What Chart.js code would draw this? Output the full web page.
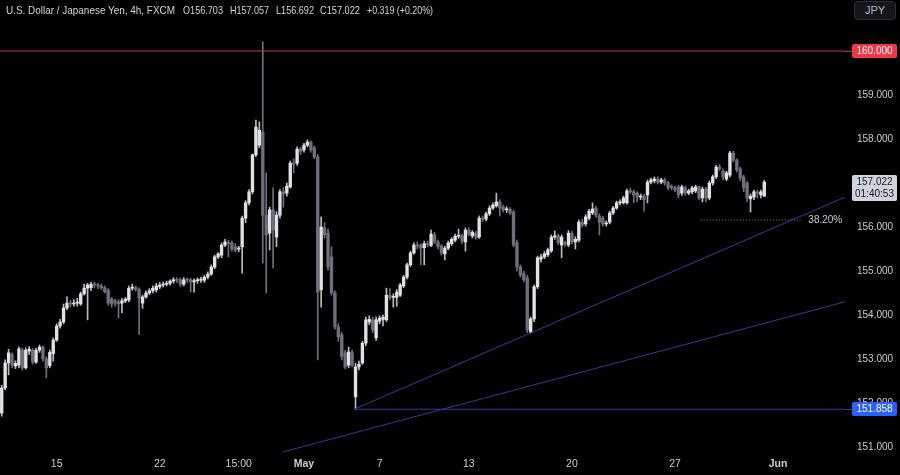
<!DOCTYPE html>
<html><head><meta charset="utf-8">
<script src="https://cdn.jsdelivr.net/npm/chart.js@4.4.1/dist/chart.umd.min.js"></script>
<style>
html,body{margin:0;padding:0;background:#000;}
#wrap{position:relative;width:900px;height:475px;background:#000;overflow:hidden;}
#c{position:absolute;left:0;top:0;}
.h{position:absolute;top:3px;color:#d1d4dc;font-size:11.5px;white-space:pre;line-height:14px;transform-origin:0 0;font-family:"Liberation Sans",Arial,sans-serif;}
#jpy{position:absolute;left:854px;top:1px;width:42px;height:19px;border:1px solid #2a2e39;border-radius:4px;background:#15161a;color:#b2b5be;font-size:11px;text-align:center;line-height:17px;box-sizing:border-box;font-family:"Liberation Sans",Arial,sans-serif;}
</style></head>
<body>
<div id="wrap">
<canvas id="c" width="900" height="475"></canvas>
<div id="hdr"></div>
<div id="jpy">JPY</div>
</div>
<script>
// ---- DATA (USD/JPY 4h, FXCM) ----
const symbolTitle = 'U.S. Dollar / Japanese Yen, 4h, FXCM';
const opens = [151.77,152.34,152.91,153.10,152.84,152.86,153.20,152.80,153.18,153.20,152.93,153.20,153.27,153.00,152.85,153.12,153.43,153.75,153.84,154.16,154.27,154.25,154.27,154.25,154.48,154.61,154.62,154.70,154.68,154.66,154.62,154.56,154.36,154.32,154.30,154.27,154.32,154.34,154.61,154.62,154.58,154.27,154.41,154.50,154.55,154.57,154.64,154.68,154.70,154.72,154.77,154.80,154.80,154.70,154.80,154.80,154.75,154.78,154.79,154.79,154.86,154.93,155.09,155.32,155.36,155.59,155.64,155.64,155.55,155.50,155.55,156.20,156.55,156.80,157.64,157.86,158.16,156.27,155.86,156.39,155.77,156.27,156.80,156.77,156.91,157.45,157.45,157.77,157.75,157.86,157.93,157.80,157.59,154.57,155.98,155.86,155.32,154.50,153.73,153.55,153.14,152.86,153.14,152.14,152.82,152.91,153.36,153.84,153.89,153.48,153.86,153.90,153.89,154.45,154.40,154.40,154.45,154.66,154.86,155.14,155.41,155.59,155.59,155.53,155.62,155.58,155.82,155.66,155.57,155.39,155.52,155.62,155.70,155.79,155.80,155.66,155.93,155.80,155.86,155.77,156.20,156.18,156.30,156.43,156.48,156.57,156.45,156.39,156.40,156.34,155.64,155.09,154.95,154.84,153.61,153.91,154.64,155.27,155.32,155.37,155.46,155.77,155.80,155.59,155.64,155.59,155.86,155.66,155.70,156.11,156.07,156.20,156.32,156.43,156.25,156.20,156.07,156.11,156.32,156.43,156.55,156.55,156.55,156.82,156.80,156.77,156.68,156.70,156.73,157.02,157.05,157.09,157.02,157.07,157.00,156.93,156.89,156.91,156.77,156.89,156.77,156.80,156.82,156.91,156.66,156.86,156.66,157.00,157.14,157.36,157.27,157.09,157.18,157.68,157.52,157.32,157.14,157.00,156.64,156.68,156.78,156.73,156.703];
const highs = [152.40,152.98,153.22,153.14,152.96,153.27,153.25,153.25,153.28,153.24,153.24,153.32,153.30,153.05,153.20,153.48,153.80,153.90,154.25,154.41,154.33,154.35,154.38,154.52,154.70,154.72,154.75,154.75,154.72,154.70,154.66,154.60,154.40,154.36,154.35,154.38,154.40,154.66,154.70,154.66,154.62,154.45,154.55,154.60,154.66,154.72,154.74,154.75,154.77,154.80,154.85,154.85,154.84,154.85,154.84,154.84,154.82,154.84,154.86,154.90,154.98,155.14,155.36,155.42,155.64,155.72,155.70,155.68,155.62,155.56,156.25,156.60,156.85,157.66,158.43,158.39,160.21,157.23,156.45,156.89,156.35,156.85,156.90,157.00,157.50,157.55,157.82,157.82,157.90,157.98,157.96,157.84,157.65,156.23,156.10,155.95,155.55,154.55,153.80,153.60,153.20,153.27,153.20,152.90,152.95,153.40,153.95,153.98,153.95,153.95,153.98,154.00,154.61,154.60,154.48,154.58,154.72,154.90,155.18,155.45,155.64,155.66,155.62,155.68,155.68,155.93,155.88,155.70,155.60,155.56,155.68,155.76,155.84,155.95,155.84,155.98,155.98,155.92,155.90,156.25,156.25,156.34,156.48,156.55,156.77,156.62,156.50,156.46,156.44,156.38,155.70,155.14,155.00,154.90,153.95,154.68,155.34,155.38,155.44,155.52,155.82,155.91,155.84,155.82,155.68,155.92,155.90,155.78,156.16,156.18,156.28,156.40,156.55,156.47,156.30,156.24,156.14,156.36,156.47,156.59,156.62,156.70,156.86,156.89,156.84,156.80,156.75,156.74,157.07,157.11,157.14,157.14,157.11,157.11,157.04,156.96,156.93,156.95,156.95,156.93,156.86,156.93,156.95,156.93,156.91,156.90,157.05,157.18,157.40,157.42,157.32,157.27,157.72,157.72,157.55,157.36,157.18,157.03,156.75,156.84,156.84,156.84,157.057];
const lows = [151.70,152.30,152.64,152.80,152.78,152.80,152.75,152.77,153.10,152.88,152.90,153.15,152.95,152.57,152.80,152.95,153.40,153.70,153.80,154.12,154.18,154.20,154.20,154.22,154.45,153.89,154.55,154.62,154.60,154.58,154.50,154.22,154.18,154.20,153.93,154.05,154.28,154.30,154.56,154.54,153.55,154.15,154.38,154.46,154.50,154.52,154.60,154.64,154.66,154.68,154.72,154.74,154.65,154.66,154.74,154.52,154.52,154.72,154.74,154.74,154.82,154.90,155.05,155.28,155.30,155.55,155.32,155.45,155.44,155.44,154.95,156.10,156.50,156.75,157.60,157.80,155.18,154.50,155.48,155.07,155.55,156.20,156.45,156.70,156.88,157.23,157.40,157.65,157.70,157.82,157.70,157.55,152.98,154.18,155.75,155.02,154.45,153.68,153.40,152.98,152.78,152.80,152.82,151.858,152.75,152.88,153.30,153.78,153.60,153.42,153.80,153.75,153.85,154.35,154.18,154.20,154.42,154.62,154.82,155.10,155.38,155.50,155.14,155.14,155.55,155.55,155.62,155.50,155.36,155.25,155.48,155.58,155.66,155.74,155.62,155.45,155.80,155.75,155.72,155.74,156.12,156.14,156.26,156.40,156.45,156.25,156.34,156.33,156.28,155.55,155.00,154.86,154.75,153.60,153.59,153.85,154.60,155.20,155.28,155.33,155.42,155.72,155.60,155.30,155.56,155.55,155.62,155.50,155.66,156.00,156.02,156.16,156.28,156.22,155.82,156.02,156.02,156.07,156.28,156.40,156.50,156.52,156.52,156.76,156.55,156.57,156.62,156.36,156.55,156.98,157.00,156.98,156.98,156.95,156.84,156.84,156.80,156.66,156.72,156.72,156.73,156.75,156.78,156.62,156.57,156.57,156.62,156.95,157.10,157.28,157.07,157.05,157.14,157.48,157.25,157.05,156.80,156.57,156.34,156.62,156.66,156.66,156.692];
const closes = [152.34,152.91,153.14,152.86,152.90,153.23,152.80,153.20,153.22,152.93,153.20,153.27,153.00,152.80,153.15,153.43,153.75,153.84,154.16,154.27,154.25,154.27,154.28,154.48,154.61,154.68,154.70,154.68,154.66,154.62,154.53,154.27,154.25,154.27,154.25,154.32,154.36,154.61,154.63,154.58,154.38,154.41,154.50,154.55,154.61,154.66,154.68,154.70,154.72,154.77,154.80,154.79,154.70,154.80,154.79,154.75,154.78,154.79,154.81,154.86,154.93,155.09,155.32,155.39,155.59,155.66,155.62,155.50,155.47,155.52,156.20,156.55,156.80,157.64,158.27,158.20,156.27,155.82,156.39,155.93,156.27,156.80,156.75,156.93,157.45,157.43,157.77,157.72,157.86,157.93,157.75,157.59,154.52,156.00,155.82,155.09,154.50,153.73,153.50,153.05,152.82,153.16,152.86,152.82,152.88,153.36,153.89,153.90,153.66,153.89,153.93,153.95,154.45,154.40,154.42,154.52,154.68,154.86,155.14,155.41,155.59,155.57,155.52,155.62,155.60,155.84,155.66,155.55,155.41,155.52,155.64,155.72,155.79,155.80,155.68,155.93,155.84,155.88,155.77,156.20,156.18,156.30,156.43,156.50,156.57,156.43,156.39,156.40,156.32,155.59,155.09,154.91,154.80,153.66,153.91,154.64,155.30,155.32,155.39,155.48,155.77,155.80,155.64,155.77,155.62,155.86,155.66,155.72,156.11,156.05,156.23,156.36,156.41,156.27,156.11,156.07,156.09,156.32,156.43,156.55,156.57,156.66,156.82,156.80,156.73,156.68,156.70,156.62,157.02,157.07,157.09,157.02,157.07,157.00,156.89,156.89,156.85,156.73,156.91,156.77,156.82,156.89,156.91,156.66,156.86,156.66,157.00,157.14,157.36,157.32,157.14,157.23,157.68,157.52,157.30,157.11,156.89,156.66,156.70,156.80,156.77,156.80,157.022];
const barSlots = 246;                       // bars incl. empty space to the right
const timeTickBars = [16, 46, 69, 88, 110, 136, 166, 196, 226];
const timeTickText = ['15', '22', '15:00', 'May', '7', '13', '20', '27', 'Jun'];
const monthTicks = ['May', 'Jun'];
const priceTicks = [151, 152, 153, 154, 155, 156, 157, 158, 159, 160];
const priceMin = 150.886, priceMax = 161.159;
const resistanceLevel = 160.000;
const supportLevel = 151.858;
const supportStartBar = 102.6;
const trendLineUpper = [[102.6, 151.858], [245.5, 156.68]];
const trendLineLower = [[82, 150.89], [245.5, 154.30]];
const fibLevel = {price: 156.16, fromBar: 203.5, toBar: 232.5, label: '38.20%'};
const countdown = '01:40:53';

const FAM = '"Liberation Sans", Arial, sans-serif';
const AX = 10;

// ---- HEADER (DOM text) ----
const L = opens.length - 1;
const chg = closes[L] - opens[L];
const hdrParts = [
  [symbolTitle, 6, 169],
  ['O' + opens[L].toFixed(3), 183, 40],
  ['H' + highs[L].toFixed(3), 230, 39],
  ['L' + lows[L].toFixed(3), 276, 38],
  ['C' + closes[L].toFixed(3), 320, 40],
  [(chg >= 0 ? '+' : '') + chg.toFixed(3) + ' (' + (chg >= 0 ? '+' : '') + (chg / opens[L] * 100).toFixed(2) + '%)', 367, 66]
];
const hdr = document.getElementById('hdr');
hdrParts.forEach(([t, left, wd]) => {
  const s = document.createElement('span');
  s.className = 'h'; s.textContent = t; s.style.left = left + 'px';
  hdr.appendChild(s);
  const real = s.getBoundingClientRect().width;
  if (real > 0) s.style.transform = 'scaleX(' + (wd / real) + ')';
});

// ---- CHART ----
const UP = '#e1e2e6', DOWN = '#6d707a', UPW = '#b9bbc1', DOWNW = '#6d707a';
const isUp = i => closes[i] >= opens[i];
const bodies = opens.map((o, i) => ({x: i, y: [o, closes[i]]}));
const wicks = lows.map((l, i) => ({x: i, y: [l, highs[i]]}));
const pts = arr => arr.map(p => ({x: p[0], y: p[1]}));
const TXT = '#c9cbd1';

const overlay = {
  id: 'overlay',
  afterDraw(chart) {
    const {ctx, chartArea: ca, scales: {x, y}} = chart;
    ctx.save();
    ctx.font = AX + 'px ' + FAM;
    ctx.fillStyle = TXT; ctx.textAlign = 'left'; ctx.textBaseline = 'middle';
    ctx.fillText(fibLevel.label, x.getPixelForValue(fibLevel.toBar) + 8, y.getPixelForValue(fibLevel.price));
    const bx = ca.right + 7, bw = 45;
    function tag(val, bg, fg, lineCol, lines) {
      const py = Math.round(y.getPixelForValue(val));
      const h = lines.length > 1 ? 26 : 14;
      if (lineCol) { ctx.strokeStyle = lineCol; ctx.lineWidth = 1; ctx.beginPath(); ctx.moveTo(ca.right, py + 0.5); ctx.lineTo(bx, py + 0.5); ctx.stroke(); }
      ctx.fillStyle = bg;
      ctx.beginPath();
      if (ctx.roundRect) ctx.roundRect(bx, py - 7, bw, h, 2); else ctx.rect(bx, py - 7, bw, h);
      ctx.fill();
      ctx.fillStyle = fg; ctx.textAlign = 'center'; ctx.textBaseline = 'middle';
      ctx.font = AX + 'px ' + FAM;
      lines.forEach((t, k) => ctx.fillText(t, bx + bw / 2, py + 0.5 + k * 12));
    }
    tag(resistanceLevel, '#f23645', '#ffffff', '#d0323f', [resistanceLevel.toFixed(3)]);
    tag(supportLevel, '#2962ff', '#ffffff', '#2e3d96', [supportLevel.toFixed(3)]);
    tag(closes[L], '#d1d4dc', '#131722', null, [closes[L].toFixed(3), countdown]);
    ctx.restore();
  }
};

new Chart(document.getElementById('c'), {
  type: 'bar',
  data: {
    datasets: [
      {type: 'line', label: 'resistance', data: pts([[-0.5, resistanceLevel], [barSlots - 0.5, resistanceLevel]]), borderColor: '#d0323f', borderWidth: 1.2, pointRadius: 0, order: -1},
      {type: 'line', label: 'support', data: pts([[supportStartBar, supportLevel], [barSlots - 0.5, supportLevel]]), borderColor: '#2e3d96', borderWidth: 1, pointRadius: 0, order: -1},
      {type: 'line', label: 'trend1', data: pts(trendLineUpper), borderColor: '#2e3d96', borderWidth: 1, pointRadius: 0, order: -1},
      {type: 'line', label: 'trend2', data: pts(trendLineLower), borderColor: '#2e3d96', borderWidth: 1, pointRadius: 0, order: -1},
      {type: 'line', label: 'fib', data: pts([[fibLevel.fromBar, fibLevel.price], [fibLevel.toBar, fibLevel.price]]), borderColor: '#8b8e97', borderWidth: 1, borderDash: [1, 2], pointRadius: 0, order: -1},
      {label: 'bodies', data: bodies, grouped: false, barThickness: 2.7, minBarLength: 1, borderWidth: 0,
        backgroundColor: c => (c.dataIndex === undefined || isUp(c.dataIndex)) ? UP : DOWN, order: 0},
      {label: 'wicks', data: wicks, grouped: false, barThickness: 1, borderWidth: 0,
        backgroundColor: c => (c.dataIndex === undefined || isUp(c.dataIndex)) ? UPW : DOWNW, order: 1}
    ]
  },
  options: {
    responsive: false, animation: false, events: [],
    layout: {padding: 0},
    plugins: {legend: {display: false}, tooltip: {enabled: false}, title: {display: false}},
    scales: {
      x: {
        type: 'linear', min: -0.5, max: barSlots - 0.5, offset: false,
        grid: {display: false, drawTicks: false}, border: {display: false},
        ticks: {
          autoSkip: false, maxRotation: 0, padding: 6, color: TXT,
          font: c => ({family: FAM, size: 10.5, weight: (c.tick && monthTicks.includes(c.tick.label)) ? 'bold' : 'normal'}),
          callback: v => { const k = timeTickBars.indexOf(v); return k >= 0 ? timeTickText[k] : ''; }
        },
        afterBuildTicks: s => { s.ticks = timeTickBars.map(v => ({value: v})); },
        afterFit: s => { s.height = 23; s.paddingLeft = 0; s.paddingRight = 0; }
      },
      y: {
        type: 'linear', position: 'right', min: priceMin, max: priceMax, beginAtZero: false,
        grid: {display: false, drawTicks: false}, border: {display: false},
        ticks: {padding: 12, color: TXT, font: {family: FAM, size: AX}, callback: v => Number(v).toFixed(3)},
        afterBuildTicks: s => { s.ticks = priceTicks.map(v => ({value: v})); },
        afterFit: s => { s.width = 55; s.paddingTop = 0; s.paddingBottom = 0; }
      }
    }
  },
  plugins: [overlay]
});
</script>
</body></html>
